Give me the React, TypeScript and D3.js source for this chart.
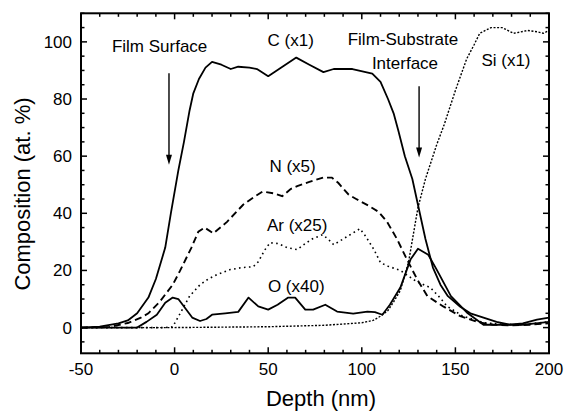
import React, { useEffect } from "react";
import * as d3 from "d3";

// ---- Data (depth in nm, composition in at. %) ----
const cDepth = [-50, -40, -30, -25, -20, -14, -10, -5, -2, 2, 5, 8, 10, 13, 16.5, 20, 25, 30, 34, 40, 44, 50, 57, 65, 72, 79.5, 85, 95, 105.6, 110, 114, 117, 119.5, 123, 127, 130, 134, 138, 142, 146, 152.6, 158, 165, 172, 179, 186, 193, 200];
const cValue = [0, 0.3, 1.5, 2.5, 5, 10.5, 17, 28, 40, 55, 65, 76, 82, 87, 91, 93, 92, 90.5, 91.3, 91, 90.5, 88, 91, 94.5, 92, 89.4, 90.5, 90.5, 88.9, 86, 80, 75, 69, 60, 52, 43, 31, 21, 15, 11, 7.3, 5, 3.5, 2, 1, 1, 1.5, 2];

const nDepth = [-50, -35, -25, -18, -14, -8, -1, 3, 6, 9, 12.7, 16, 20.7, 28, 36.6, 42, 47, 53, 57.5, 62, 65.5, 72, 79.4, 84, 87.5, 93, 97, 104, 109, 113.5, 118.8, 124, 129.5, 135, 143.5, 152.6, 161.6, 170, 180, 190, 200];
const nValue = [0, 0.2, 1.6, 3.5, 5, 9, 15, 20, 24, 28, 33.6, 35, 33, 37, 43, 45.5, 47.6, 47, 46, 48.5, 49.5, 51, 52.5, 52.5, 50.6, 46.5, 45, 42.5, 40.5, 37, 31, 24, 17, 11, 7.4, 4, 2, 1, 0.8, 1, 1.5];

const arDepth = [-50, -5, -1, 3, 8, 13.6, 18, 22.5, 29.7, 36, 42, 44.7, 48, 51, 55.5, 60, 65.5, 70, 73.5, 79, 82, 85, 90, 95, 99, 102, 106.5, 110, 114, 120.6, 125, 129.5, 136.6, 141, 145.7, 154, 165, 175, 185, 200];
const arValue = [0, 0, 0.3, 5, 11, 15, 17, 18.5, 20.3, 21, 21.3, 23, 27, 29.7, 29.4, 28, 27.3, 29.5, 31, 32.5, 31, 29, 31, 33, 34.6, 32, 27.3, 22.7, 21.5, 20, 18, 16, 14, 11, 7.4, 4, 1.7, 1.2, 1, 2];

const oDepth = [-50, -20, -15, -9.5, -5, -1, 2, 5, 9.4, 13.6, 17, 20, 27, 34, 39.5, 44.7, 50, 55, 60.7, 64.4, 69.8, 74, 80.5, 86.8, 95.4, 103, 107, 111, 115, 120.6, 126, 130, 135.5, 140, 147.6, 156.6, 165, 179, 186, 193.6, 200];
const oValue = [0, 0, 2, 4.5, 8.7, 10.5, 10, 7.4, 3.5, 2.3, 3, 4.5, 5, 5.5, 10.5, 7.4, 6.3, 8, 10.5, 10.5, 6.3, 6.3, 8, 5.6, 4.9, 5.6, 5.4, 4.5, 8, 14, 23.8, 27.6, 25.5, 20.3, 11, 5, 1, 1, 1.5, 2.8, 3.5];

const siDepth = [-50, 0, 50, 80, 100, 106, 110, 114, 117, 120.6, 125, 130, 134, 137, 140, 144, 150, 156, 160, 163, 169, 175, 181, 185, 188.5, 194, 197, 200];
const siValue = [0, 0, 0.3, 0.8, 1.7, 2.5, 4, 6, 9, 13, 23, 42, 52, 58, 64, 71, 83, 94, 99, 103, 105, 105, 103, 103.5, 104, 103.5, 103, 104];

const xMajorTicks = [-50, 0, 50, 100, 150, 200];
const yMajorTicks = [0, 20, 40, 60, 80, 100];

const xLabel = "Depth (nm)";
const yLabel = "Composition (at. %)";

const labels = [
  { text: "C (x1)", depth: 62, value: 98.5 },
  { text: "N (x5)", depth: 63, value: 54.5 },
  { text: "Ar (x25)", depth: 65.5, value: 33.8 },
  { text: "O (x40)", depth: 65, value: 12.4 },
  { text: "Si (x1)", depth: 177, value: 91.5 },
];

const arrows = [
  { text: ["Film Surface"], depth: -3, from: 89, to: 57, textDepth: -8, textValue: 96.5 },
  { text: ["Film-Substrate", "Interface"], depth: 130.6, from: 84.5, to: 59.5, textDepth: 122, textValue: 99 },
];

const W = 565;
const H = 412;
const margin = { left: 81, right: 16, top: 13.3, bottom: 58.7 };

export default function App() {
  useEffect(() => {
    document.body.style.margin = "0";
  }, []);

  const x = d3.scaleLinear().domain([-50, 200]).range([margin.left, W - margin.right]);
  const y = d3.scaleLinear().domain([-9, 110]).range([H - margin.bottom, margin.top]);

  const line = (ds: number[], vs: number[]) =>
    d3
      .line<number>()
      .x((_, i) => x(ds[i]))
      .y((v) => y(v))
      .curve(d3.curveLinear)(vs) as string;

  const x0 = x(-50), x1 = x(200), y0 = y(-9), y1 = y(110);
  const xMinor = d3.range(-50, 201, 10);
  const yMinor = d3.range(-5, 111, 5);
  const font = "'Liberation Sans', Arial, Helvetica, sans-serif";

  return (
    <svg width={W} height={H} style={{ display: "block" }} fontFamily={font}>
      <rect width={W} height={H} fill="#fff" />
      {/* data lines */}
      <path d={line(siDepth, siValue)} fill="none" stroke="#000" strokeWidth={1.4} strokeDasharray="2 1.6" />
      <path d={line(arDepth, arValue)} fill="none" stroke="#000" strokeWidth={1.6} strokeDasharray="1.6 3.4" />
      <path d={line(nDepth, nValue)} fill="none" stroke="#000" strokeWidth={1.9} strokeDasharray="7 4" />
      <path d={line(oDepth, oValue)} fill="none" stroke="#000" strokeWidth={1.8} strokeLinejoin="round" />
      <path d={line(cDepth, cValue)} fill="none" stroke="#000" strokeWidth={1.8} strokeLinejoin="round" />

      {/* ticks */}
      {xMinor.map((t) => {
        const major = t % 50 === 0;
        const len = major ? 6 : 3.5;
        return (
          <g key={"xt" + t}>
            <line x1={x(t)} x2={x(t)} y1={y0} y2={y0 - len} stroke="#000" strokeWidth={1.5} />
            <line x1={x(t)} x2={x(t)} y1={y1} y2={y1 + len} stroke="#000" strokeWidth={1.5} />
          </g>
        );
      })}
      {yMinor.map((t) => {
        const major = t % 20 === 0 && t <= 100;
        const len = major ? 6 : 3.5;
        return (
          <g key={"yt" + t}>
            <line x1={x0} x2={x0 + len} y1={y(t)} y2={y(t)} stroke="#000" strokeWidth={1.5} />
            <line x1={x1} x2={x1 - len} y1={y(t)} y2={y(t)} stroke="#000" strokeWidth={1.5} />
          </g>
        );
      })}
      <rect x={x0} y={y1} width={x1 - x0} height={y0 - y1} fill="none" stroke="#000" strokeWidth={2} />

      {/* tick labels */}
      {xMajorTicks.map((t) => (
        <text key={"xl" + t} x={x(t)} y={y0 + 22} textAnchor="middle" fontSize={17}>
          {t}
        </text>
      ))}
      {yMajorTicks.map((t) => (
        <text key={"yl" + t} x={x0 - 9} y={y(t) + 6} textAnchor="end" fontSize={17}>
          {t}
        </text>
      ))}

      {/* axis titles */}
      <text x={(x0 + x1) / 2 + 6} y={406} textAnchor="middle" fontSize={22}>
        {xLabel}
      </text>
      <text transform={`translate(30, 194) rotate(-90)`} textAnchor="middle" fontSize={22}>
        {yLabel}
      </text>

      {/* series labels */}
      {labels.map((l) => (
        <text key={l.text} x={x(l.depth)} y={y(l.value)} textAnchor="middle" fontSize={17}>
          {l.text}
        </text>
      ))}

      {/* arrows */}
      {arrows.map((a, i) => (
        <g key={"ar" + i}>
          {a.text.map((t, j) => (
            <text key={t} x={x(a.textDepth) + (j === 1 ? 2 : 0)} y={y(a.textValue) + j * 24} textAnchor="middle" fontSize={17}>
              {t}
            </text>
          ))}
          <line x1={x(a.depth)} x2={x(a.depth)} y1={y(a.from)} y2={y(a.to) - 8} stroke="#000" strokeWidth={1.4} />
          <path
            d={`M${x(a.depth) - 3},${y(a.to) - 10} L${x(a.depth) + 3},${y(a.to) - 10} L${x(a.depth)},${y(a.to)} Z`}
            fill="#000"
          />
        </g>
      ))}
    </svg>
  );
}
